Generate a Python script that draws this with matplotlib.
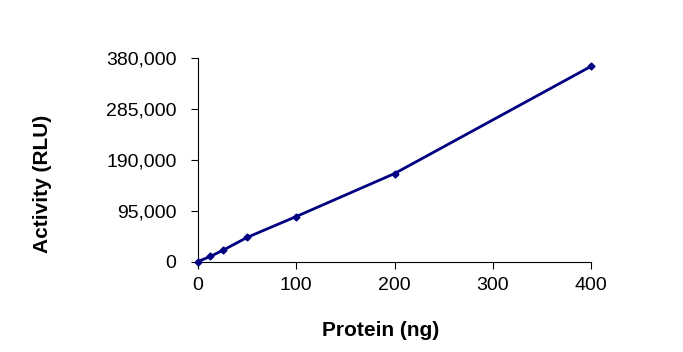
import matplotlib.pyplot as plt
from matplotlib.ticker import FuncFormatter

plt.rcParams['font.family'] = ['Liberation Sans', 'DejaVu Sans']

# protein amount (ng) vs activity (RLU)
protein_ng = [0, 12.5, 25, 50, 100, 200, 400]
activity_rlu = [0, 9400, 20600, 45000, 84000, 164200, 364400]

x_ticks = [0, 100, 200, 300, 400]
y_ticks = [0, 95000, 190000, 285000, 380000]

fig = plt.figure(figsize=(6.83, 3.52), dpi=100)
ax = fig.add_axes([198 / 683, 1 - 261.5 / 352, (591 - 198) / 683, (261.5 - 58) / 352])

ax.plot(protein_ng, activity_rlu, color='#000080', linewidth=2.0,
        marker='D', markersize=3.5, clip_on=False, zorder=3)

ax.set_xlim(0, 400)
ax.set_ylim(0, 380000)
ax.set_xticks(x_ticks)
ax.set_yticks(y_ticks)
ax.yaxis.set_major_formatter(FuncFormatter(lambda v, p: f'{int(v):,}'))

for side in ['top', 'right']:
    ax.spines[side].set_visible(False)
for side in ['left', 'bottom']:
    ax.spines[side].set_color('black')
    ax.spines[side].set_linewidth(0.8)

ax.tick_params(axis='both', direction='out', length=5, width=0.8, labelsize=14)
ax.tick_params(axis='y', pad=10.5)
ax.tick_params(axis='x', pad=6.5)

fig.text(381 / 683, 1 - 331 / 352, 'Protein (ng)', ha='center', va='center',
         fontsize=15, fontweight='bold')
fig.text(43 / 683, 1 - 184 / 352, 'Activity (RLU)', ha='center', va='center',
         rotation=90, fontsize=15, fontweight='bold')

fig.savefig('out.png', dpi=100)
